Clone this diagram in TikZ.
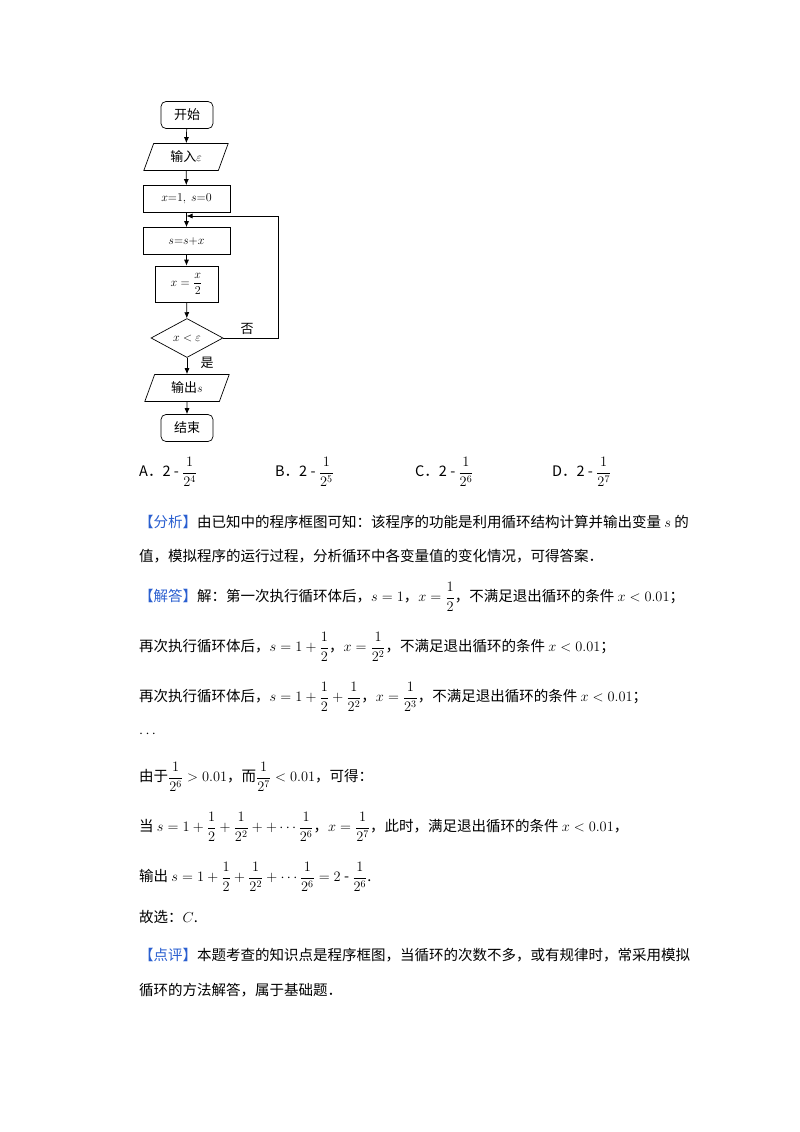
\documentclass[tikz,border=0pt]{standalone}
\usepackage{amsmath}
\usepackage{fontspec}
\setmainfont{Noto Sans CJK SC}
\usetikzlibrary{shapes.geometric,arrows.meta}
\definecolor{hd}{HTML}{2A5FD0}
\newcommand{\hdr}[1]{\textcolor{hd}{【#1】}}
\newcommand{\fr}[2]{{\displaystyle\frac{#1}{#2}}}
\begin{document}
\begin{tikzpicture}[x=1pt,y=-1pt,
  fbox/.style={draw,line width=0.7pt,minimum height=27pt,inner sep=1pt,font=\fontsize{13}{15}\selectfont},
  rbox/.style={fbox,rounded corners=5pt,minimum width=52pt},
  para/.style={fbox,trapezium,trapezium left angle=70,trapezium right angle=110,minimum width=60pt},
  dia/.style={fbox,diamond,aspect=1.85,minimum width=72pt,minimum height=39pt,inner sep=0pt},
  arr/.style={-{Latex[length=6pt,width=5pt]},line width=0.7pt},
  ln/.style={anchor=west,inner sep=0pt,font=\fontsize{14.5}{17}\selectfont}]
\useasboundingbox (0,0) rectangle (800,1132);
\fill[white] (0,0) rectangle (800,1132);
\node[rbox] (st) at (187,115) {开始};
\node[para] (in) at (186,157) {输入$\varepsilon$};
\node[fbox,minimum width=87pt] (init) at (186.5,199) {$x{=}1,\ s{=}0$};
\node[fbox,minimum width=87pt] (sum) at (186.5,241) {$s{=}s{+}x$};
\node[fbox,minimum width=63pt,minimum height=36pt] (half) at (186.5,284) {$x=\dfrac{x}{2}$};
\node[dia] (cond) at (187,338) {$x<\varepsilon$};
\node[para] (out) at (187,388) {输出$s$};
\node[rbox] (en) at (187,428) {结束};
\coordinate (lp) at (186.5,216);
\coordinate (rc) at (278,338);
\coordinate (rt) at (278,216);
\draw[arr] (st) -- (in);
\draw[arr] (in) -- (init);
\draw[line width=0.7pt] (init) -- (lp);
\draw[arr] (lp) -- (sum);
\draw[arr] (sum) -- (half);
\draw[arr] (half) -- (cond);
\draw[arr] (cond) -- (out);
\draw[arr] (out) -- (en);
\draw[arr] (cond.east) -- (rc) -- (rt) -- (lp);
\node[font=\fontsize{13}{15}\selectfont] (no) at (247,329) {否};
\node[font=\fontsize{13}{15}\selectfont] (yes) at (207,363) {是};
% options
\node[ln] (oa) at (139,472) {A．2 - $\fr{1}{2^4}$};
\node[ln] (ob) at (275,472) {B．2 - $\fr{1}{2^5}$};
\node[ln] (oc) at (415,472) {C．2 - $\fr{1}{2^6}$};
\node[ln] (od) at (552,472) {D．2 - $\fr{1}{2^7}$};
\node[ln] (l1) at (139,522) {\hdr{分析}由已知中的程序框图可知：该程序的功能是利用循环结构计算并输出变量 $s$ 的};
\node[ln] (l2) at (139,556) {值，模拟程序的运行过程，分析循环中各变量值的变化情况，可得答案．};
\node[ln] (l3) at (139,597) {\hdr{解答}解：第一次执行循环体后，$s=1$，$x=\fr{1}{2}$，不满足退出循环的条件 $x<0.01$；};
\node[ln] (l4) at (139,647) {再次执行循环体后，$s=1+\fr{1}{2}$，$x=\fr{1}{2^2}$，不满足退出循环的条件 $x<0.01$；};
\node[ln] (l5) at (139,697) {再次执行循环体后，$s=1+\fr{1}{2}+\fr{1}{2^2}$，$x=\fr{1}{2^3}$，不满足退出循环的条件 $x<0.01$；};
\node[ln] (l6) at (139,734) {$\cdots$};
\node[ln] (l7) at (139,777) {由于$\fr{1}{2^6}>0.01$，而$\fr{1}{2^7}<0.01$，可得：};
\node[ln] (l8) at (139,827) {当 $s=1+\fr{1}{2}+\fr{1}{2^2}++\cdots\fr{1}{2^6}$，$x=\fr{1}{2^7}$，此时，满足退出循环的条件 $x<0.01$，};
\node[ln] (l9) at (139,877) {输出 $s=1+\fr{1}{2}+\fr{1}{2^2}+\cdots\fr{1}{2^6}=2\ \text{-}\ \fr{1}{2^6}$.};
\node[ln] (l10) at (139,917) {故选：$C$.};
\node[ln] (l11) at (139,955) {\hdr{点评}本题考查的知识点是程序框图，当循环的次数不多，或有规律时，常采用模拟};
\node[ln] (l12) at (139,990) {循环的方法解答，属于基础题．};
\end{tikzpicture}
\end{document}
